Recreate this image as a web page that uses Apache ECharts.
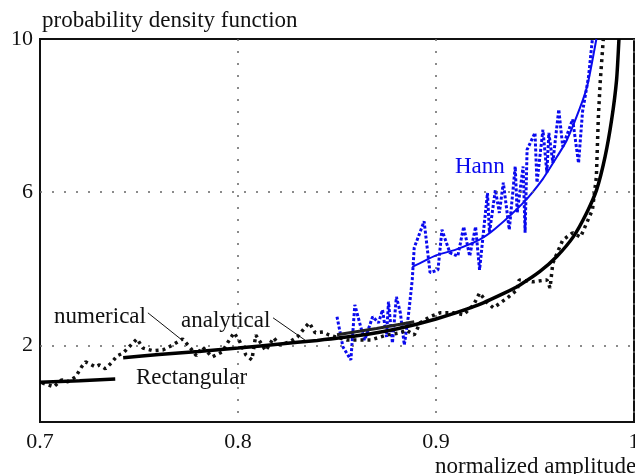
<!DOCTYPE html>
<html>
<head>
<meta charset="utf-8">
<script src="https://cdn.jsdelivr.net/npm/echarts@6/dist/echarts.min.js"></script>
<style>
  html, body { margin: 0; padding: 0; background: #fff; }
  #chart { width: 635px; height: 474px; }
</style>
</head>
<body>
<div id="chart"></div>
<script>
// analytical pdf, rectangular window (two pieces)
var rectLowX = [0.700, 0.720, 0.738];
var rectLowY = [1.04, 1.08, 1.12];
var rectX = [0.742, 0.76, 0.78, 0.80, 0.82, 0.84, 0.86, 0.88, 0.90, 0.92, 0.935, 0.9424, 0.9525, 0.961, 0.9694, 0.976, 0.9811, 0.9854, 0.9887, 0.9912, 0.9924];
var rectY = [1.68, 1.76, 1.84, 1.93, 2.03, 2.13, 2.25, 2.43, 2.69, 3.03, 3.38, 3.58, 3.93, 4.32, 4.84, 5.45, 6.06, 6.93, 7.89, 8.93, 10.0];

// analytical pdf, Hann window
var hannLowX = [0.850, 0.870, 0.889];
var hannLowY = [2.28, 2.44, 2.62];
var hannX = [0.888, 0.892, 0.90, 0.91, 0.922, 0.93, 0.944, 0.954, 0.962, 0.966, 0.9727, 0.9765, 0.981];
var hannY = [4.05, 4.15, 4.35, 4.50, 4.76, 5.05, 5.72, 6.35, 7.00, 7.35, 8.20, 8.80, 10.0];

// numerical estimate, rectangular window
var numX = [0.701, 0.707, 0.711, 0.714, 0.718, 0.721, 0.723, 0.728, 0.730, 0.733, 0.736, 0.739, 0.742, 0.745, 0.749, 0.752, 0.757, 0.762, 0.767, 0.772, 0.776, 0.779, 0.782, 0.787, 0.792, 0.795, 0.798, 0.801, 0.804, 0.807, 0.809, 0.814, 0.818, 0.821, 0.826, 0.830, 0.834, 0.836, 0.839, 0.843, 0.846, 0.855, 0.867, 0.875, 0.882, 0.885, 0.889, 0.892, 0.897, 0.902, 0.909, 0.914, 0.919, 0.922, 0.926, 0.929, 0.936, 0.941, 0.942, 0.949, 0.956, 0.9576, 0.959, 0.964, 0.969, 0.973, 0.979, 0.981, 0.982, 0.983, 0.9845];
var numY = [1.02, 0.92, 1.10, 1.05, 1.18, 1.44, 1.57, 1.44, 1.49, 1.39, 1.54, 1.73, 1.80, 1.96, 2.17, 1.93, 1.86, 1.88, 2.01, 2.17, 1.93, 1.73, 1.96, 1.70, 1.83, 2.09, 2.33, 2.09, 1.75, 1.62, 2.27, 1.86, 2.20, 2.01, 2.09, 2.22, 2.48, 2.59, 2.33, 2.35, 2.27, 2.14, 2.14, 2.27, 2.33, 2.40, 2.27, 2.59, 2.75, 2.85, 2.85, 2.80, 3.06, 3.37, 3.11, 2.98, 3.24, 3.45, 3.71, 3.66, 3.71, 3.50, 4.15, 4.75, 4.94, 4.83, 5.54, 6.40, 7.97, 8.93, 10.0];

// numerical estimate, Hann window
var numHannX = [0.850, 0.853, 0.857, 0.859, 0.862, 0.864, 0.868, 0.871, 0.873, 0.875, 0.876, 0.878, 0.880, 0.882, 0.884, 0.886, 0.888, 0.889, 0.894, 0.897, 0.901, 0.903, 0.907, 0.911, 0.914, 0.917, 0.920, 0.922, 0.926, 0.927, 0.930, 0.932, 0.934, 0.937, 0.940, 0.941, 0.944, 0.945, 0.946, 0.950, 0.951, 0.954, 0.956, 0.957, 0.959, 0.962, 0.964, 0.969, 0.972, 0.974, 0.977, 0.979];
var numHannY = [2.75, 1.96, 1.62, 3.06, 2.48, 2.14, 2.75, 2.59, 2.93, 2.22, 3.14, 2.06, 3.27, 2.85, 2.01, 2.75, 3.71, 4.55, 5.24, 3.90, 3.97, 5.02, 4.42, 4.33, 5.10, 4.33, 5.10, 3.97, 5.98, 4.94, 6.06, 5.46, 6.25, 5.02, 6.67, 5.46, 6.67, 4.94, 7.11, 7.55, 6.25, 7.63, 6.51, 7.55, 6.77, 8.16, 7.19, 7.90, 6.76, 8.10, 9.00, 10.0];

var xTicks = [0.7, 0.8, 0.9, 1];
var yTicks = [2, 6, 10];

var FONT = '"Liberation Serif", "Times New Roman", serif';
var BLUE = '#0a0aee';
var GRIDDOT = { type: [2, 10], color: '#666', width: 1.5 };

function pairs(xs, ys) {
  return xs.map(function (x, i) { return [x, ys[i]]; });
}

function note(text, x, y, color) {
  return {
    type: 'text', x: x, y: y,
    style: { text: text, font: '23px ' + FONT, fill: color || '#111', verticalAlign: 'middle' }
  };
}

var chart = echarts.init(document.getElementById('chart'));

chart.setOption({
  animation: false,
  backgroundColor: '#fff',
  grid: {
    left: 40, right: 1, top: 39, bottom: 52,
    outerBoundsMode: 'none',
    show: true, borderColor: '#111', borderWidth: 2
  },
  xAxis: {
    type: 'value', min: 0.7, max: 1, interval: 0.1,
    axisLine: { show: true, lineStyle: { color: '#111', width: 2 } },
    axisTick: { show: false },
    axisLabel: {
      margin: 9, color: '#111', fontFamily: FONT, fontSize: 22,
      showMinLabel: true, showMaxLabel: true, hideOverlap: false,
      formatter: function (v) {
        var r = Math.round(v * 10) / 10;
        return xTicks.indexOf(r) >= 0 ? String(r) : '';
      }
    },
    splitLine: { show: true, lineStyle: GRIDDOT }
  },
  yAxis: {
    type: 'value', min: 0, max: 10, interval: 2,
    axisLine: { show: true, lineStyle: { color: '#111', width: 2 } },
    axisTick: { show: false },
    axisLabel: {
      margin: 7, color: '#111', fontFamily: FONT, fontSize: 22,
      formatter: function (v) { return yTicks.indexOf(v) >= 0 ? String(v) : ''; }
    },
    splitLine: { show: false }
  },
  graphic: [
    note('probability density function', 42, 21),
    note('normalized amplitude', 435, 467),
    note('numerical', 54, 317),
    note('analytical', 181, 321),
    note('Rectangular', 136, 378),
    note('Hann', 455, 167, BLUE)
  ],
  series: [
    {
      name: 'numerical Hann', type: 'line', data: pairs(numHannX, numHannY),
      showSymbol: false, lineStyle: { color: BLUE, width: 3, type: [3, 2] }, z: 2
    },
    {
      name: 'numerical', type: 'line', data: pairs(numX, numY),
      showSymbol: false, lineStyle: { color: '#111', width: 3.5, type: [3, 4] }, z: 3,
      markLine: {
        silent: true, symbol: ['none', 'none'], label: { show: false },
        lineStyle: GRIDDOT,
        data: [{ yAxis: 2 }, { yAxis: 6 }]
      }
    },
    {
      name: 'Hann', type: 'line', data: pairs(hannX, hannY), smooth: 0.2,
      showSymbol: false, lineStyle: { color: BLUE, width: 2 }, z: 4
    },
    {
      name: 'Hann low', type: 'line', data: pairs(hannLowX, hannLowY),
      showSymbol: false, lineStyle: { color: '#222', width: 3 }, z: 4
    },
    {
      name: 'Rectangular low', type: 'line', data: pairs(rectLowX, rectLowY),
      showSymbol: false, lineStyle: { color: '#000', width: 3.5 }, z: 5
    },
    {
      name: 'Rectangular', type: 'line', data: pairs(rectX, rectY), smooth: 0.2,
      showSymbol: false, lineStyle: { color: '#000', width: 3.5 }, z: 5,
      markLine: {
        silent: true, symbol: ['none', 'none'], label: { show: false },
        lineStyle: { color: '#111', width: 1, type: 'solid' },
        data: [
          [{ coord: [0.7545, 2.85] }, { coord: [0.7717, 2.14] }],
          [{ coord: [0.8177, 2.72] }, { coord: [0.8338, 2.14] }]
        ]
      }
    }
  ]
});
</script>
</body>
</html>
